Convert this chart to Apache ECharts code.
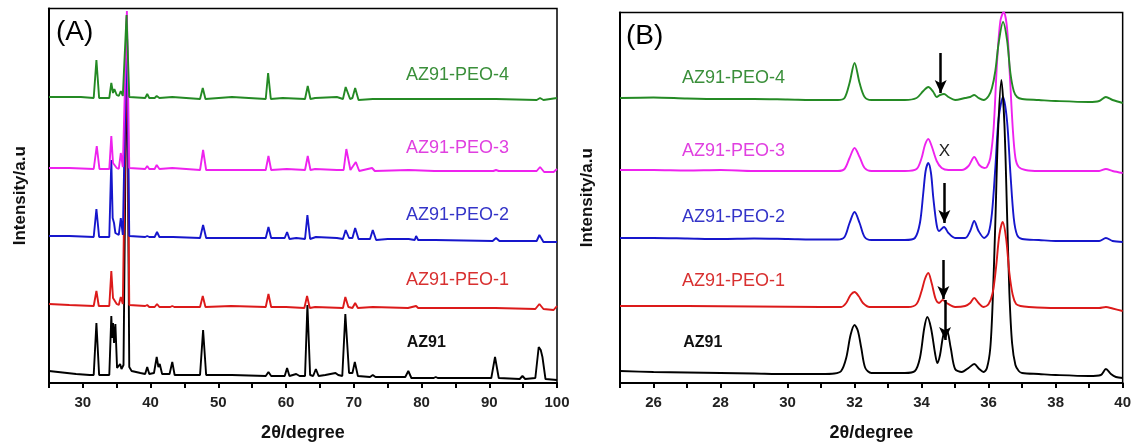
<!DOCTYPE html>
<html>
<head>
<meta charset="utf-8">
<script src="https://cdn.jsdelivr.net/npm/echarts@6/dist/echarts.min.js"></script>
<style>
  html, body { margin: 0; background: #fff; }
  #chart { width: 1134px; height: 447px; }
</style>
</head>
<body>
<div id="chart"></div>
<script>
// ---- data (2theta, intensity a.u.) ----
var names = ['AZ91', 'AZ91-PEO-1', 'AZ91-PEO-2', 'AZ91-PEO-3', 'AZ91-PEO-4'];
var lineColors = ['#000000', '#dc1a1a', '#1616cc', '#ee22ee', '#248a24'];
var textColors = ['#111111', '#d83030', '#3434c8', '#e040e0', '#3a8f3a'];

// panel A : full range
var az91A = [[25,12],[27,10.5],[29,9],[31,8],[31.6,8],[32.0,60],[32.4,8],[33.9,8],[34.2,67],[34.33,45],[34.45,60],[34.6,40],[34.8,59],[35.05,15],[35.3,17],[35.5,19],[35.7,14],[36.0,18],[36.2,20],[36.5,366],[36.85,16],[37.2,12],[38.5,10],[39.2,9],[39.5,16],[39.8,9],[40.5,10],[40.9,26],[41.15,16],[41.35,19],[41.7,9],[42.8,9],[43.2,21],[43.55,8],[47.3,8],[47.75,53],[48.2,8],[52,8],[57.0,7],[57.4,11],[57.8,7],[59.8,7],[60.15,15],[60.5,7],[61.5,9],[62.0,7],[62.8,7],[63.15,78],[63.55,8],[64.0,7],[64.4,14],[64.8,7],[65.8,8],[67.3,10],[67.7,8],[68.3,7],[68.75,69],[69.3,10],[69.8,10],[70.15,21],[70.6,7],[72.4,6],[72.8,8],[73.2,6],[77.6,6],[78.05,12],[78.5,5],[81.8,5],[82.1,6],[82.4,5],[90.3,5],[90.85,26],[91.4,5],[94.5,4],[94.9,7],[95.3,4],[96.8,5],[97.3,36],[97.6,33],[97.85,26],[98.3,4],[100,3]];
var peo1A = [[25,79],[28,78],[31.6,77],[32.0,92],[32.35,77],[33.9,77],[34.2,112],[34.45,85],[34.65,83],[35.0,79],[35.3,78],[35.6,86],[35.9,79],[36.15,80],[36.5,368],[36.85,78],[39.2,77],[39.5,78],[39.8,76],[40.6,76],[40.95,79],[41.3,76],[42.9,76],[43.2,77],[43.5,76],[47.3,76],[47.7,87],[48.1,76],[51.9,77],[57.0,76],[57.4,89],[57.8,76],[60.0,76],[62.7,75],[63.1,87],[63.5,75],[64.3,76],[68.4,75],[68.75,86],[69.2,76],[69.8,75],[70.2,80],[70.6,75],[72.8,76],[78,75],[79.2,77],[79.5,75],[81.9,75],[82.1,76],[82.4,75],[90.9,75],[96.8,74],[97.4,79],[98.0,74],[99.5,73],[100,77]];
var peo2A = [[25,147],[28,147],[31.6,146],[32.0,174],[32.4,146],[33.9,146],[34.2,223],[34.4,165],[34.6,160],[34.8,150],[35.0,148],[35.3,148],[35.6,165],[35.9,148],[36.15,149],[36.5,362],[36.85,147],[39.2,146],[39.5,147],[39.8,146],[40.6,146],[40.95,151],[41.3,146],[43.3,146],[47.3,145],[47.75,158],[48.2,145],[57.0,145],[57.4,156],[57.8,145],[59.8,145],[60.15,151],[60.5,144],[61.5,145],[62.8,144],[63.15,168],[63.55,144],[64.4,146],[67.5,145],[68.4,144],[68.8,153],[69.3,145],[69.8,145],[70.2,155],[70.7,144],[72.4,144],[72.8,153],[73.3,143],[75.0,144],[78.1,144],[79.0,143],[79.2,147],[79.5,143],[82,143],[90.5,142],[91,145],[91.5,142],[95,142],[97.0,142],[97.4,148],[98.0,141],[100,141]];
var peo3A = [[25,215],[28,215],[31.6,214],[32.05,237],[32.45,214],[33.9,214],[34.2,247],[34.45,220],[34.7,218],[35.0,215],[35.3,214],[35.6,230],[35.9,216],[36.15,217],[36.5,372],[36.85,215],[39.2,214],[39.5,217],[39.8,214],[40.6,214],[40.9,218],[41.3,214],[43.2,215],[47.3,213],[47.75,233],[48.2,213],[57.0,213],[57.4,227],[57.8,213],[60.1,214],[62.8,213],[63.2,227],[63.6,213],[64.3,214],[67.5,213],[68.5,213],[68.9,234],[69.5,213],[70.3,221],[70.8,212],[72.7,215],[73.1,212],[78.1,213],[81.9,212],[90.6,212],[91.0,213],[91.4,212],[97.0,212],[97.5,216],[98.1,211],[99.5,211],[100,214]];
var peo4A = [[25,286],[29.3,286],[29.5,287],[29.7,286],[31.6,285],[32.0,323],[32.4,285],[33.9,285],[34.2,300],[34.45,290],[34.65,294],[35.0,288],[35.3,287],[35.6,292],[35.9,287],[36.15,288],[36.45,368],[36.85,286],[39.2,285],[39.5,289],[39.8,285],[40.6,285],[40.9,287],[41.3,285],[43.2,286],[47.3,284],[47.7,295],[48.1,284],[52,286],[57.0,284],[57.35,310],[57.75,284],[59.5,285],[62.8,284],[63.2,297],[63.6,284],[64.3,285],[67.5,286],[68.4,284],[68.8,296],[69.45,284],[69.8,285],[70.2,295],[70.7,283],[72.8,284],[78.1,284],[82,284],[91,284],[97.0,283],[97.5,285],[98.0,283],[100,285]];

// panel B : 25-40 detail
var az91B = [[25,12],[26,11],[27,10.5],[28,10],[29,9.5],[30,9],[31,9],[31.4,9.5],[31.6,12],[31.75,25],[31.88,48],[32.0,58],[32.1,52],[32.2,35],[32.32,15],[32.5,10],[33,10],[33.5,10],[33.8,12],[33.95,25],[34.08,55],[34.17,66],[34.28,55],[34.4,30],[34.47,20],[34.55,28],[34.65,48],[34.75,53],[34.87,35],[35.0,14],[35.2,11],[35.4,15],[35.57,19],[35.72,14],[35.85,11],[35.95,15],[36.05,35],[36.12,80],[36.2,160],[36.28,250],[36.38,303],[36.47,260],[36.55,170],[36.62,90],[36.7,40],[36.8,18],[36.9,12],[37.0,10],[37.5,9],[38,8],[39,7],[39.35,8],[39.5,14],[39.65,9],[39.8,6],[40,5]];
var peo1B = [[25,77],[27,77],[29,76.5],[31,76],[31.6,76],[31.75,80],[31.88,88],[32.0,91],[32.12,87],[32.25,80],[32.45,76],[33,76],[33.6,76],[33.85,79],[34.0,92],[34.1,104],[34.2,110],[34.3,100],[34.42,84],[34.52,80],[34.63,83],[34.75,80],[35.0,76],[35.3,77],[35.45,80],[35.57,85],[35.7,80],[35.85,76],[36.0,79],[36.12,90],[36.22,115],[36.32,148],[36.42,161],[36.52,145],[36.62,110],[36.72,88],[36.82,79],[36.95,77],[37.2,76],[38,75],[39,75],[39.3,75],[39.5,76],[39.7,74.5],[40,72]];
var peo2B = [[25,145],[26,145],[27,144.5],[28,144],[29,144.5],[30,144],[31,143.5],[31.5,143.5],[31.7,146],[31.85,160],[32.0,171],[32.15,160],[32.3,146],[32.5,143],[33,143],[33.5,143],[33.8,145],[33.95,160],[34.05,190],[34.12,212],[34.2,220],[34.28,210],[34.35,185],[34.45,158],[34.52,152],[34.67,156],[34.8,150],[35.0,145],[35.3,145],[35.45,152],[35.57,162],[35.7,152],[35.87,145],[36.0,150],[36.1,170],[36.2,215],[36.3,265],[36.43,286],[36.55,262],[36.65,210],[36.75,165],[36.85,148],[37.0,144],[37.5,143],[38,142],[39,142],[39.3,142],[39.5,145],[39.7,142],[40,141]];
var peo3B = [[25,213],[26,213],[27,212.5],[28,213],[29,212],[30,212],[31,212],[31.5,212],[31.7,214],[31.85,225],[32.0,235],[32.15,226],[32.3,215],[32.5,212],[33,212],[33.5,212],[33.85,214],[34.0,225],[34.1,238],[34.2,244],[34.3,237],[34.45,222],[34.6,215],[34.8,213],[35.0,213],[35.2,213],[35.4,217],[35.57,226],[35.72,218],[35.87,215],[35.95,216],[36.05,225],[36.15,255],[36.25,320],[36.35,362],[36.45,371],[36.55,355],[36.63,310],[36.72,255],[36.8,225],[36.9,216],[37.1,213],[37.5,212],[38,212],[39,212],[39.3,212],[39.5,214],[39.7,212],[40,210]];
var peo4B = [[25,285],[26,285.5],[27,284.5],[28,284],[29,284],[30,283.5],[31,283],[31.5,283],[31.7,285],[31.85,300],[32.0,320],[32.15,300],[32.3,286],[32.5,283],[33,283],[33.5,283],[33.85,285],[34.05,292],[34.2,296],[34.35,291],[34.45,286],[34.55,288],[34.67,289],[34.8,286],[35.0,283],[35.3,285],[35.45,286],[35.57,288],[35.7,285],[35.85,283],[36.0,287],[36.1,295],[36.2,312],[36.3,340],[36.43,361],[36.55,343],[36.65,310],[36.75,292],[36.85,286],[37.0,284],[37.5,283],[38,282],[39,281],[39.3,282],[39.5,286],[39.7,283],[40,280]];

// label anchors [2theta, intensity]
var labelPosA = [[80.7,40],[85.3,103],[85.3,168],[85.3,235],[85.3,308]];
var labelPosB = [[27.47,40],[28.39,102],[28.39,166],[28.39,232],[28.39,305]];
// arrows in panel B: [trace index, 2theta, from, to]
var arrowsB = [[0, 34.70, 83, 43], [1, 34.65, 123, 84], [2, 34.68, 200, 160], [4, 34.57, 330, 290]];
var crossB = [34.68, 232];

var FONT = '"Liberation Sans", Arial, sans-serif';

function makeX(gi, min, max, step, labelStep) {
  return {
    gridIndex: gi, type: 'value', min: min, max: max, interval: step,
    name: '2\u03B8/degree', nameLocation: 'middle', nameGap: 41,
    nameTextStyle: { fontFamily: FONT, fontSize: 18, fontWeight: 'bold', color: '#111' },
    axisLine: { onZero: false, lineStyle: { color: '#000', width: 2 } },
    axisTick: { show: true, length: 5, lineStyle: { color: '#000', width: 2 } },
    axisLabel: {
      margin: 12, fontFamily: FONT, fontSize: 15, fontWeight: 'bold', color: '#222',
      formatter: function (v) { return Math.round(v) % labelStep === 0 ? String(Math.round(v)) : ''; }
    },
    splitLine: { show: false }
  };
}

function makeY(gi, h, gap) {
  return {
    gridIndex: gi, type: 'value', min: 0, max: h,
    name: 'Intensity/a.u', nameLocation: 'middle', nameGap: gap, nameRotate: 90,
    nameTextStyle: { fontFamily: FONT, fontSize: 17, fontWeight: 'bold', color: '#111' },
    axisLine: { show: true, lineStyle: { color: '#000', width: 2 } },
    axisTick: { show: false }, axisLabel: { show: false }, splitLine: { show: false }
  };
}

function trace(i, data, gi, smooth, labelPos) {
  return {
    type: 'line', name: names[i] + (gi ? ' B' : ' A'),
    xAxisIndex: gi, yAxisIndex: gi, data: data,
    symbol: 'none', showSymbol: false, smooth: smooth,
    lineStyle: { color: lineColors[i], width: 1.9 }, itemStyle: { color: lineColors[i] },
    animation: false, silent: true,
    markPoint: {
      silent: true, animation: false, symbol: 'rect', symbolSize: 1,
      itemStyle: { color: 'transparent' },
      label: {
        show: true, position: 'inside', formatter: names[i],
        fontFamily: FONT, fontSize: i === 0 ? 16 : 18, fontWeight: i === 0 ? 'bold' : 'normal',
        color: textColors[i]
      },
      data: [{ coord: labelPos[i] }]
    }
  };
}

var seriesA = [
  trace(0, az91A, 0, false, labelPosA),
  trace(1, peo1A, 0, false, labelPosA),
  trace(2, peo2A, 0, false, labelPosA),
  trace(3, peo3A, 0, false, labelPosA),
  trace(4, peo4A, 0, false, labelPosA)
];
var tB = [
  trace(0, az91B, 1, 0.3, labelPosB),
  trace(1, peo1B, 1, 0.3, labelPosB),
  trace(2, peo2B, 1, 0.3, labelPosB),
  trace(3, peo3B, 1, 0.3, labelPosB),
  trace(4, peo4B, 1, 0.3, labelPosB)
];
arrowsB.forEach(function (a) {
  tB[a[0]].markLine = {
    silent: true, animation: false, symbol: ['none', 'arrow'], symbolSize: [9, 13],
    label: { show: false },
    lineStyle: { color: '#000', width: 2.5, type: 'solid' },
    data: [[{ coord: [a[1], a[2]] }, { coord: [a[1], a[3]] }]]
  };
});
tB[3].markPoint.data.push({
  coord: crossB,
  label: { formatter: 'X', color: '#222', fontSize: 17, fontWeight: 'normal' }
});
// drawing order for panel B
var seriesB = [tB[2], tB[0], tB[1], tB[3], tB[4]];

var chart = echarts.init(document.getElementById('chart'), null, { renderer: 'canvas' });
chart.setOption({
  backgroundColor: '#fff',
  animation: false,
  grid: [
    { left: 49, top: 8.5, width: 508, height: 374.5, show: true, borderColor: '#000', borderWidth: 1.5, backgroundColor: 'transparent' },
    { left: 620, top: 12.5, width: 503, height: 370.5, show: true, borderColor: '#000', borderWidth: 1.5, backgroundColor: 'transparent' }
  ],
  xAxis: [makeX(0, 25, 100, 5, 10), makeX(1, 25, 40, 1, 2)],
  yAxis: [makeY(0, 374.5, 20), makeY(1, 370.5, 24)],
  graphic: [
    { type: 'text', left: 56, top: 18, style: { text: '(A)', fontFamily: FONT, fontSize: 28, fill: '#000' } },
    { type: 'text', left: 626, top: 22, style: { text: '(B)', fontFamily: FONT, fontSize: 28, fill: '#000' } }
  ],
  series: seriesA.concat(seriesB)
});
</script>
</body>
</html>
